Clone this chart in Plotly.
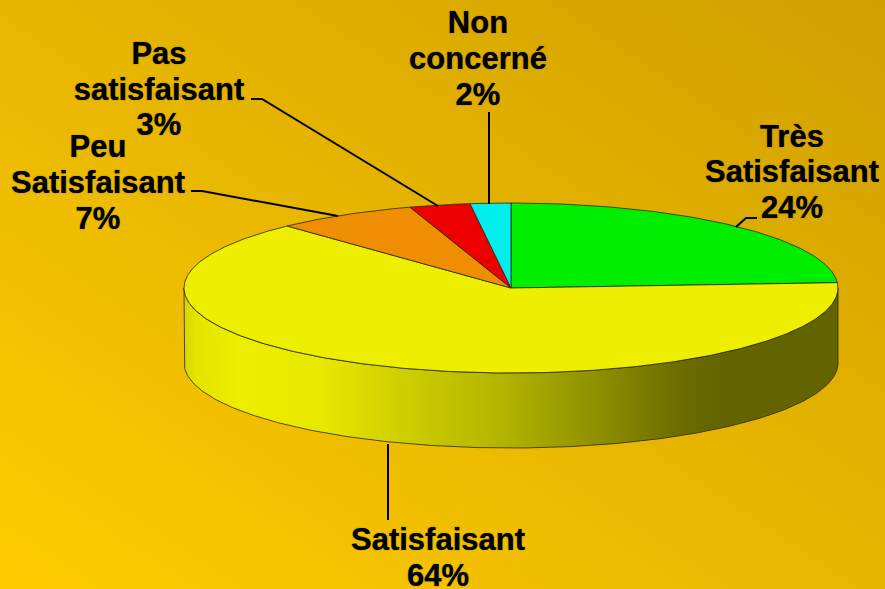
import numpy as np
import plotly.graph_objects as go

# --- data ---
categories = ["Très Satisfaisant", "Satisfaisant", "Peu Satisfaisant", "Pas satisfaisant", "Non concerné"]
values = [24, 64, 7, 3, 2]
colors = ["#00EE00", "#EEEE00", "#EE8E00", "#EE0000", "#00EEEE"]

label_lines = [["Très", "Satisfaisant", "24%"],
               ["Satisfaisant", "64%"],
               ["Peu", "Satisfaisant", "7%"],
               ["Pas", "satisfaisant", "3%"],
               ["Non", "concerné", "2%"]]
label_x = [792, 438, 98, 159, 478]
label_y = [[139, 174, 210], [542, 578], [149, 185, 221], [56, 92, 127], [25, 61, 97]]
leaders = [[(736, 227), (746, 218), (757, 218)],
           [(388, 444), (388, 520)],
           [(191, 191), (202, 191), (338, 216)],
           [(251, 99), (262, 99), (438, 206)],
           [(489, 112), (489, 204)]]

W, H = 885, 589
CX, CY, RX, RY, DEPTH = 511, 288, 327, 85, 75
EDGE = "rgba(40,40,0,0.8)"


def ell(deg, dy=0):
    a = np.radians(deg)
    return CX + RX * np.sin(a), CY - RY * np.cos(a) + dy


fig = go.Figure()

# background gradient
gx = np.linspace(-10, W + 10, 60)
gy = np.linspace(-10, H + 10, 40)
gz = [[(x / W + (H - y) / H) / 2 for x in gx] for y in gy]
fig.add_trace(go.Heatmap(x=gx, y=gy, z=gz, zmin=0, zmax=1, zsmooth="best", showscale=False,
                         colorscale=[[0, "#FFCC00"], [1, "#D0A000"]], hoverinfo="skip"))

# side wall
ang = np.linspace(90, 270, 240)
tx, ty = ell(ang)
bx, by = ell(ang[::-1], DEPTH)
stops = [(184, "#D6D600"), (196, "#E4E400"), (240, "#EEEE00"), (320, "#E8E800"), (390, "#D2D200"),
         (500, "#B4B400"), (600, "#8E8E00"), (680, "#6C6C00"), (725, "#636300"), (838, "#636300")]
fig.add_trace(go.Scatter(
    x=np.r_[tx, bx, tx[0]], y=np.r_[ty, by, ty[0]], mode="lines", fill="toself",
    line=dict(color=EDGE, width=1), hoverinfo="skip",
    fillgradient=dict(type="horizontal", start=184, stop=838,
                      colorscale=[[(p - 184) / (838 - 184), c] for p, c in stops])))

# top slices
cum = 0
total = sum(values)
for name, v, c in zip(categories, values, colors):
    a0, a1 = 360 * cum / total, 360 * (cum + v) / total
    cum += v
    a = np.linspace(a0, a1, max(int(v * 6), 12))
    ex, ey = ell(a)
    fig.add_trace(go.Scatter(x=np.r_[CX, ex, CX], y=np.r_[CY, ey, CY], mode="lines", fill="toself",
                             fillcolor=c, line=dict(color=EDGE, width=1), name=name, hoverinfo="skip"))

# leader lines
for pts in leaders:
    fig.add_trace(go.Scatter(x=[p[0] for p in pts], y=[p[1] for p in pts], mode="lines",
                             line=dict(color="#000000", width=2), hoverinfo="skip"))

# labels, one text mark per line because the leading is tighter than Plotly's <br>
for lines, x, ys in zip(label_lines, label_x, label_y):
    fig.add_trace(go.Scatter(x=[x] * len(lines), y=ys, text=lines, mode="text", textposition="middle center",
                             textfont=dict(family="Liberation Sans", size=31, color="#000000", weight="bold",
                                           shadow="0 0 1px rgba(0,0,0,0.7)"),
                             hoverinfo="skip", cliponaxis=False))

fig.update_layout(width=W, height=H, autosize=False, showlegend=False,
                  margin=dict(l=0, r=0, t=0, b=0), paper_bgcolor="#E6B300", plot_bgcolor="rgba(0,0,0,0)",
                  xaxis=dict(range=[0, W], visible=False, fixedrange=True),
                  yaxis=dict(range=[H, 0], visible=False, fixedrange=True))
fig.write_html("out.html", config=dict(displayModeBar=False),
               post_script="document.body.style.margin='0';document.documentElement.style.overflow='hidden';")
